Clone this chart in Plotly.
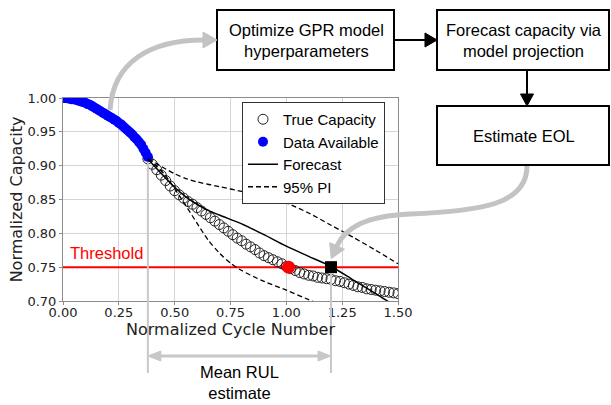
import plotly.graph_objects as go

# ---------------- data ----------------
avail_x = [0.00, 0.01, 0.02, 0.03, 0.04, 0.05, 0.06, 0.07, 0.08, 0.09,
           0.10, 0.11, 0.12, 0.13, 0.14, 0.15, 0.16, 0.17, 0.18, 0.19,
           0.20, 0.21, 0.22, 0.23, 0.24, 0.25, 0.26, 0.27, 0.28, 0.29,
           0.30, 0.31, 0.32, 0.33, 0.34, 0.35, 0.36, 0.37, 0.38]
avail_y = [1.000, 1.000, 0.9995, 0.999, 0.998, 0.998, 0.997, 0.996, 0.995, 0.994,
           0.993, 0.991, 0.990, 0.988, 0.986, 0.984, 0.982, 0.980, 0.978, 0.976,
           0.974, 0.972, 0.970, 0.968, 0.966, 0.963, 0.961, 0.958, 0.955, 0.952,
           0.949, 0.946, 0.942, 0.939, 0.935, 0.931, 0.925, 0.919, 0.913]

true_x = [0.38, 0.40, 0.42, 0.44, 0.46, 0.48, 0.50, 0.52, 0.54, 0.56,
          0.58, 0.60, 0.62, 0.64, 0.66, 0.68, 0.70, 0.72, 0.74, 0.76,
          0.78, 0.80, 0.82, 0.84, 0.86, 0.88, 0.90, 0.92, 0.94, 0.96,
          0.98, 1.00, 1.02, 1.04, 1.06, 1.08, 1.10, 1.12, 1.14, 1.16,
          1.18, 1.20, 1.22, 1.24, 1.26, 1.28, 1.30, 1.32, 1.34, 1.36,
          1.38, 1.40, 1.42, 1.44, 1.46, 1.48, 1.50]
true_y = [0.910, 0.902, 0.894, 0.886, 0.878, 0.870, 0.863, 0.857, 0.852, 0.847,
          0.843, 0.838, 0.833, 0.828, 0.823, 0.818, 0.813, 0.808, 0.803, 0.798,
          0.793, 0.789, 0.784, 0.780, 0.776, 0.771, 0.767, 0.764, 0.761, 0.758,
          0.755, 0.751, 0.748, 0.745, 0.742, 0.740, 0.738, 0.737, 0.735, 0.734,
          0.733, 0.732, 0.730, 0.729, 0.727, 0.725, 0.723, 0.721, 0.720, 0.718,
          0.717, 0.716, 0.715, 0.714, 0.713, 0.712, 0.711]

fc_x = [0.38, 0.45, 0.50, 0.55, 0.60, 0.65, 0.70, 0.80, 0.90, 1.00, 1.10, 1.20, 1.30, 1.40, 1.50]
fc_y = [0.910, 0.885, 0.868, 0.854, 0.843, 0.834, 0.827, 0.814, 0.798, 0.781, 0.766, 0.751, 0.731, 0.711, 0.690]

pi_up_x = [0.38, 0.42, 0.45, 0.50, 0.55, 0.60, 0.70, 0.80, 0.90, 1.00, 1.10, 1.20, 1.30, 1.40, 1.50]
pi_up_y = [0.910, 0.903, 0.897, 0.888, 0.881, 0.876, 0.869, 0.862, 0.855, 0.845, 0.830, 0.812, 0.794, 0.775, 0.755]

pi_lo_x = [0.38, 0.42, 0.46, 0.50, 0.55, 0.60, 0.65, 0.70, 0.75, 0.80, 0.90, 1.00, 1.10, 1.15]
pi_lo_y = [0.910, 0.899, 0.885, 0.866, 0.841, 0.815, 0.790, 0.771, 0.756, 0.745, 0.729, 0.716, 0.702, 0.695]

threshold = 0.75
eol_true_x, eol_true_y = [1.01], [0.75]
eol_pred_x, eol_pred_y = [1.20], [0.75]
forecast_start = 0.38

x_ticks = [0.00, 0.25, 0.50, 0.75, 1.00, 1.25, 1.50]
x_tick_text = ["0.00", "0.25", "0.50", "0.75", "1.00", "1.25", "1.50"]
y_ticks = [0.70, 0.75, 0.80, 0.85, 0.90, 0.95, 1.00]
y_tick_text = ["0.70", "0.75", "0.80", "0.85", "0.90", "0.95", "1.00"]

box_texts = ["Optimize GPR model<br>hyperparameters",
             "Forecast capacity via<br>model projection",
             "Estimate EOL"]
rul_text = "Mean RUL<br>estimate"

# ---------------- geometry (pixels) ----------------
W, H = 611, 405
PL, PR, PT, PB = 63, 398, 98, 301
X_RANGE = [0, 1.5]
Y_RANGE = [0.70, 1.00]


def px(x):
    return x / W


def py(y):
    return 1 - y / H


def pt(x, y):
    return f"{px(x):.5f},{py(y):.5f}"


DPP = (X_RANGE[1] - X_RANGE[0]) / (PR - PL)  # data units per pixel on x

SANS = "Liberation Sans, Arial, Helvetica, sans-serif"
DJ = "DejaVu Sans, sans-serif"
GRAY_ARROW = "#c3c3c3"

fig = go.Figure()

fig.add_trace(go.Scatter(x=X_RANGE, y=[threshold, threshold], mode="lines",
                         line=dict(color="#ff0000", width=2), showlegend=False,
                         hoverinfo="skip"))
fig.add_trace(go.Scatter(x=true_x, y=true_y, mode="markers", name="True Capacity",
                         marker=dict(symbol="circle-open", size=10, color="#222222",
                                     line=dict(width=1, color="#222222"))))
fig.add_trace(go.Scatter(x=avail_x, y=avail_y, mode="markers", name="Data Available",
                         marker=dict(symbol="circle", size=10, color="#0000ff",
                                     line=dict(width=0))))
fig.add_trace(go.Scatter(x=fc_x, y=fc_y, mode="lines", name="Forecast",
                         line=dict(color="black", width=1.5, shape="spline", smoothing=0.8)))
fig.add_trace(go.Scatter(x=pi_up_x, y=pi_up_y, mode="lines", name="95% PI",
                         line=dict(color="black", width=1.3, dash="5px,3px", shape="spline",
                                   smoothing=0.8)))
fig.add_trace(go.Scatter(x=pi_lo_x, y=pi_lo_y, mode="lines", name="95% PI", showlegend=False,
                         line=dict(color="black", width=1.3, dash="5px,3px", shape="spline",
                                   smoothing=0.8)))
fig.add_trace(go.Scatter(x=eol_true_x, y=eol_true_y, mode="markers", showlegend=False,
                         marker=dict(symbol="circle", size=13, color="#ff0000")))
fig.add_trace(go.Scatter(x=eol_pred_x, y=eol_pred_y, mode="markers", showlegend=False,
                         marker=dict(symbol="square", size=12, color="black")))

shapes = []
annotations = []

# flow-chart boxes
boxes = [(217, 10, 394, 70), (437, 10, 609, 70), (437, 106, 609, 165)]
for (x0, y0, x1, y1), txt in zip(boxes, box_texts):
    shapes.append(dict(type="rect", xref="paper", yref="paper",
                       x0=px(x0), x1=px(x1), y0=py(y1), y1=py(y0),
                       line=dict(color="black", width=2), fillcolor="white", layer="above"))
    annotations.append(dict(xref="paper", yref="paper", x=px((x0 + x1) / 2 + 1),
                            y=py((y0 + y1) / 2), text=txt, showarrow=False,
                            xanchor="center", yanchor="middle",
                            font=dict(family=SANS, size=16.5, color="black")))

# black connector arrows
shapes.append(dict(type="line", xref="paper", yref="paper", x0=px(394), x1=px(427),
                   y0=py(40), y1=py(40), line=dict(color="black", width=2), layer="above"))
shapes.append(dict(type="path", xref="paper", yref="paper",
                   path=f"M{pt(425, 33)} L{pt(437, 40)} L{pt(425, 47)} Z",
                   fillcolor="black", line=dict(color="black", width=1), layer="above"))
shapes.append(dict(type="line", xref="paper", yref="paper", x0=px(527), x1=px(527),
                   y0=py(70), y1=py(96), line=dict(color="black", width=2), layer="above"))
shapes.append(dict(type="path", xref="paper", yref="paper",
                   path=f"M{pt(520.5, 94)} L{pt(527, 106)} L{pt(533.5, 94)} Z",
                   fillcolor="black", line=dict(color="black", width=1), layer="above"))

# grey curved arrows
shapes.append(dict(type="path", xref="paper", yref="paper",
                   path=f"M{pt(110, 110)} C{pt(113, 62)} {pt(150, 40)} {pt(204, 40)}",
                   line=dict(color=GRAY_ARROW, width=5), layer="above"))
shapes.append(dict(type="path", xref="paper", yref="paper",
                   path=f"M{pt(203, 32)} L{pt(217, 40)} L{pt(203, 48)} Z",
                   fillcolor=GRAY_ARROW, line=dict(color=GRAY_ARROW, width=1), layer="above"))
shapes.append(dict(type="path", xref="paper", yref="paper",
                   path=(f"M{pt(527, 166)} C{pt(527, 205)} {pt(480, 211)} {pt(410, 214)} "
                         f"C{pt(365, 216)} {pt(345, 228)} {pt(337, 246)}"),
                   line=dict(color=GRAY_ARROW, width=5), layer="above"))
shapes.append(dict(type="path", xref="paper", yref="paper",
                   path=f"M{pt(344.5, 249.3)} L{pt(331.3, 258.5)} L{pt(329.7, 242.7)} Z",
                   fillcolor=GRAY_ARROW, line=dict(color=GRAY_ARROW, width=1), layer="above"))

# RUL bracket
ydom = [(H - PB) / H, (H - PT) / H]


def ydata_to_paper(v):
    return ydom[0] + (v - Y_RANGE[0]) / (Y_RANGE[1] - Y_RANGE[0]) * (ydom[1] - ydom[0])


LINE_GRAY = "#c8c8c8"
shapes.append(dict(type="line", xref="x", yref="paper", x0=forecast_start, x1=forecast_start,
                   y0=py(373), y1=ydata_to_paper(0.905), line=dict(color=LINE_GRAY, width=2),
                   layer="above"))
shapes.append(dict(type="line", xref="x", yref="paper", x0=eol_pred_x[0], x1=eol_pred_x[0],
                   y0=py(373), y1=ydata_to_paper(eol_pred_y[0]) - 6 / H,
                   line=dict(color=LINE_GRAY, width=2), layer="above"))
head = 13 * DPP
xa, xb = forecast_start, eol_pred_x[0]
shapes.append(dict(type="line", xref="x", yref="paper", x0=xa + head * 0.8, x1=xb - head * 0.8,
                   y0=py(356), y1=py(356), line=dict(color=LINE_GRAY, width=3), layer="above"))
shapes.append(dict(type="path", xref="x", yref="paper",
                   path=(f"M{xa:.5f},{py(356):.5f} L{xa + head:.5f},{py(351):.5f} "
                         f"L{xa + head:.5f},{py(361):.5f} Z"),
                   fillcolor=LINE_GRAY, line=dict(color=LINE_GRAY, width=1), layer="above"))
shapes.append(dict(type="path", xref="x", yref="paper",
                   path=(f"M{xb:.5f},{py(356):.5f} L{xb - head:.5f},{py(351):.5f} "
                         f"L{xb - head:.5f},{py(361):.5f} Z"),
                   fillcolor=LINE_GRAY, line=dict(color=LINE_GRAY, width=1), layer="above"))
annotations.append(dict(xref="paper", yref="paper", x=px(240), y=py(382), text=rul_text,
                        showarrow=False, xanchor="center", yanchor="middle",
                        font=dict(family=SANS, size=16.5, color="black")))

# threshold label
annotations.append(dict(xref="x", yref="y", x=0.022, y=0.771, text="Threshold",
                        showarrow=False, xanchor="left", yanchor="middle",
                        font=dict(family=SANS, size=16.5, color="#ff0000")))

axis_common = dict(showgrid=True, gridcolor="#d5d5d5", gridwidth=1, zeroline=False,
                   showline=True, mirror=True, linecolor="#8c8c8c", linewidth=1,
                   ticks="outside", ticklen=3, tickcolor="#8c8c8c", automargin=False,
                   tickfont=dict(family=DJ, size=13, color="#222222"))

fig.update_layout(
    template="none",
    width=W, height=H,
    margin=dict(l=0, r=0, t=0, b=0),
    paper_bgcolor="white", plot_bgcolor="white",
    font=dict(family=DJ, color="#222222"),
    xaxis=dict(domain=[PL / W, PR / W], range=X_RANGE, tickvals=x_ticks, ticktext=x_tick_text,
               ticklabelstandoff=-4,
               title=dict(text="Normalized Cycle Number", standoff=0,
                          font=dict(family=DJ, size=16, color="#222222")),
               **axis_common),
    yaxis=dict(domain=ydom, range=Y_RANGE, tickvals=y_ticks, ticktext=y_tick_text,
               title=dict(text="Normalized Capacity", standoff=0,
                          font=dict(family=DJ, size=16, color="#222222")),
               **axis_common),
    legend=dict(x=px(242), y=py(102), xanchor="left", yanchor="top",
                bgcolor="white", bordercolor="#333333", borderwidth=1,
                font=dict(family=SANS, size=15, color="black"),
                itemwidth=30, tracegroupgap=0),
    shapes=shapes,
    annotations=annotations,
    showlegend=True,
)

fig.write_html("out.html")
